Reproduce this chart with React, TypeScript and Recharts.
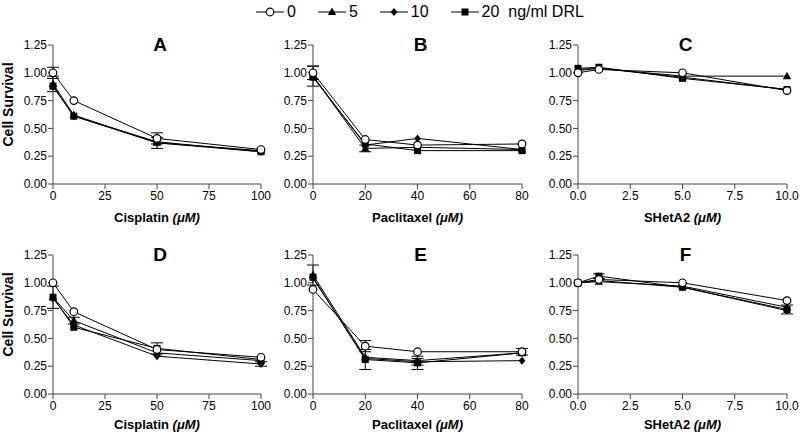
import React from 'react';
import { LineChart, Line, XAxis, YAxis, ErrorBar } from 'recharts';

// ---- x values / ticks ----
const cisplatinX = [0, 10, 50, 100];
const paclitaxelX = [0, 20, 40, 80];
const shetaX = [0, 1, 5, 10];
const yTicks = [0, 0.25, 0.5, 0.75, 1, 1.25];
const cisplatinTicks = [0, 25, 50, 75, 100];
const paclitaxelTicks = [0, 20, 40, 60, 80];
const shetaTicks = [0, 2.5, 5, 7.5, 10];
const doseLabels = ['0', '5', '10', '20'];

// ---- Panel A (Cisplatin) ----
const A0 = [1.0, 0.75, 0.41, 0.31];
const A5 = [0.9, 0.62, 0.37, 0.3];
const A10 = [0.88, 0.61, 0.37, 0.29];
const A20 = [0.88, 0.61, 0.38, 0.29];
const A0e = [0.05, 0, 0.05, 0];
const A5e = [0.07, 0, 0.05, 0];
const A10e = [0, 0, 0, 0];
const A20e = [0, 0, 0, 0];

// ---- Panel B (Paclitaxel) ----
const B0 = [1.0, 0.4, 0.35, 0.36];
const B5 = [0.97, 0.32, 0.33, 0.31];
const B10 = [0.97, 0.35, 0.41, 0.31];
const B20 = [0.96, 0.36, 0.3, 0.3];
const B0e = [0.06, 0, 0, 0];
const B5e = [0.09, 0.03, 0, 0];
const B10e = [0, 0, 0, 0];
const B20e = [0, 0, 0, 0];

// ---- Panel C (SHetA2) ----
const C0 = [1.0, 1.03, 1.0, 0.84];
const C5 = [1.02, 1.04, 0.97, 0.97];
const C10 = [1.03, 1.04, 0.96, 0.85];
const C20 = [1.04, 1.05, 0.95, 0.85];
const C0e = [0, 0, 0, 0];
const C5e = [0, 0, 0, 0];
const C10e = [0, 0, 0, 0];
const C20e = [0, 0, 0, 0];

// ---- Panel D (Cisplatin) ----
const D0 = [1.0, 0.74, 0.4, 0.33];
const D5 = [0.87, 0.66, 0.37, 0.3];
const D10 = [0.86, 0.62, 0.34, 0.27];
const D20 = [0.87, 0.6, 0.41, 0.31];
const D0e = [0, 0, 0, 0];
const D5e = [0, 0.03, 0, 0];
const D10e = [0, 0, 0, 0.02];
const D20e = [0.1, 0, 0.05, 0];

// ---- Panel E (Paclitaxel) ----
const E0 = [0.94, 0.43, 0.38, 0.38];
const E5 = [1.07, 0.33, 0.3, 0.37];
const E10 = [1.04, 0.32, 0.29, 0.3];
const E20 = [1.05, 0.31, 0.28, 0.37];
const E0e = [0, 0.05, 0, 0.03];
const E5e = [0.09, 0, 0, 0];
const E10e = [0, 0, 0.03, 0];
const E20e = [0, 0.09, 0.06, 0];

// ---- Panel F (SHetA2) ----
const F0 = [1.0, 1.03, 1.0, 0.84];
const F5 = [1.0, 1.01, 0.97, 0.78];
const F10 = [1.0, 1.02, 0.96, 0.75];
const F20 = [1.0, 1.06, 0.96, 0.76];
const F0e = [0, 0, 0, 0];
const F5e = [0, 0, 0, 0];
const F10e = [0, 0, 0, 0];
const F20e = [0, 0.02, 0, 0.04];

const FONT = '"Liberation Sans", Arial, Helvetica, sans-serif';

type Row = { x: number; v0: number; v5: number; v10: number; v20: number; e0: number; e5: number; e10: number; e20: number };

function build(x: number[], s: number[][], e: number[][]): Row[] {
  return x.map((xv, i) => ({
    x: xv,
    v0: s[0][i], v5: s[1][i], v10: s[2][i], v20: s[3][i],
    e0: e[0][i], e5: e[1][i], e10: e[2][i], e20: e[3][i],
  }));
}

const dataA = build(cisplatinX, [A0, A5, A10, A20], [A0e, A5e, A10e, A20e]);
const dataB = build(paclitaxelX, [B0, B5, B10, B20], [B0e, B5e, B10e, B20e]);
const dataC = build(shetaX, [C0, C5, C10, C20], [C0e, C5e, C10e, C20e]);
const dataD = build(cisplatinX, [D0, D5, D10, D20], [D0e, D5e, D10e, D20e]);
const dataE = build(paclitaxelX, [E0, E5, E10, E20], [E0e, E5e, E10e, E20e]);
const dataF = build(shetaX, [F0, F5, F10, F20], [F0e, F5e, F10e, F20e]);

type Shape = 'circle' | 'triangle' | 'diamond' | 'square';

function MarkerShape({ cx, cy, shape }: { cx: number; cy: number; shape: Shape }) {
  if (shape === 'circle') return <circle cx={cx} cy={cy} r={3.8} fill="#fff" stroke="#000" strokeWidth={1.2} />;
  if (shape === 'triangle')
    return <polygon points={`${cx},${cy - 4.5} ${cx - 4.2},${cy + 3} ${cx + 4.2},${cy + 3}`} fill="#000" />;
  if (shape === 'diamond')
    return <polygon points={`${cx},${cy - 4} ${cx + 3.4},${cy} ${cx},${cy + 4} ${cx - 3.4},${cy}`} fill="#000" />;
  return <rect x={cx - 3.5} y={cy - 3.5} width={7} height={7} fill="#000" />;
}

const makeDot = (shape: Shape) => (props: any) => {
  const { cx, cy, index } = props;
  if (cx == null || cy == null) return <g key={`d-${shape}-${index}`} />;
  return (
    <g key={`d-${shape}-${index}`}>
      <MarkerShape cx={cx} cy={cy} shape={shape} />
    </g>
  );
};

const series: { key: string; err: string; shape: Shape; label: string }[] = [
  { key: 'v20', err: 'e20', shape: 'square', label: doseLabels[3] },
  { key: 'v10', err: 'e10', shape: 'diamond', label: doseLabels[2] },
  { key: 'v5', err: 'e5', shape: 'triangle', label: doseLabels[1] },
  { key: 'v0', err: 'e0', shape: 'circle', label: doseLabels[0] },
];

function XTitle(props: any) {
  const { viewBox, name, off } = props;
  const { x, y, width } = viewBox;
  return (
    <text x={x + width / 2} y={y + off} textAnchor="middle" fontFamily={FONT} fontSize={13} fontWeight="bold" fill="#000">
      {name + ' '}
      <tspan fontStyle="italic">(μM)</tspan>
    </text>
  );
}

function YTitle(props: any) {
  const { viewBox } = props;
  const { x, y, height } = viewBox;
  const cx = x + 13;
  const cy = y + height / 2 - 10;
  return (
    <text x={cx} y={cy} transform={`rotate(-90, ${cx}, ${cy})`} textAnchor="middle" fontFamily={FONT} fontSize={14} fontWeight="bold" fill="#000">
      Cell Survival
    </text>
  );
}

type PanelProps = {
  left: number;
  plotTop: number;
  plotLeft: number;
  plotRight: number;
  data: Row[];
  ticks: number[];
  domain: [number, number];
  xName: string;
  letter: string;
  yLabel: boolean;
  fmt: (v: number) => string;
  titleOff: number;
};

const PLOT_H = 139;
const AXIS_H = 45;
const MARGIN_TOP = 10;

function Panel(p: PanelProps) {
  const width = p.plotRight - p.left + 16;
  const height = MARGIN_TOP + PLOT_H + AXIS_H;
  const yw = p.plotLeft - p.left;
  return (
    <>
      <div style={{ position: 'absolute', left: p.left, top: p.plotTop - MARGIN_TOP }}>
        <LineChart
          width={width}
          height={height}
          data={p.data}
          margin={{ top: MARGIN_TOP, right: 16, bottom: 0, left: 0 }}
          style={{ overflow: 'visible' }}
        >
          <XAxis
            dataKey="x"
            type="number"
            domain={p.domain}
            ticks={p.ticks}
            tickFormatter={p.fmt}
            height={AXIS_H}
            tickSize={5}
            tickMargin={2}
            stroke="#444"
            tick={{ fill: '#000', fontSize: 12, fontFamily: FONT }}
            label={<XTitle name={p.xName} off={p.titleOff} />}
          />
          <YAxis
            type="number"
            domain={[0, 1.25]}
            ticks={yTicks}
            tickFormatter={(v: number) => v.toFixed(2)}
            width={yw}
            tickSize={5}
            tickMargin={1}
            stroke="#444"
            tick={{ fill: '#000', fontSize: 12, fontFamily: FONT }}
            label={p.yLabel ? <YTitle /> : undefined}
          />
          {series.map((s) => (
            <Line
              key={s.key}
              dataKey={s.key}
              stroke="#000"
              strokeWidth={1}
              dot={makeDot(s.shape)}
              activeDot={false}
              isAnimationActive={false}
              name={s.label}
            >
              <ErrorBar dataKey={s.err} width={6} stroke="#000" strokeWidth={1} direction="y" />
            </Line>
          ))}
        </LineChart>
      </div>
      <div
        style={{
          position: 'absolute',
          left: (p.plotLeft + p.plotRight) / 2 - 20 + 3,
          width: 40,
          top: p.plotTop - 11,
          textAlign: 'center',
          fontFamily: FONT,
          fontWeight: 'bold',
          fontSize: 19,
          lineHeight: '22px',
          color: '#000',
        }}
      >
        {p.letter}
      </div>
    </>
  );
}

function LegendIcon({ shape }: { shape: Shape }) {
  return (
    <svg width={28} height={14} style={{ display: 'block' }}>
      <line x1={0} y1={7} x2={28} y2={7} stroke="#000" strokeWidth={1} />
      <MarkerShape cx={14} cy={7} shape={shape} />
    </svg>
  );
}

function Legend() {
  const items: { shape: Shape; text: string }[] = [
    { shape: 'circle', text: doseLabels[0] },
    { shape: 'triangle', text: doseLabels[1] },
    { shape: 'diamond', text: doseLabels[2] },
    { shape: 'square', text: doseLabels[3] + '  ng/ml DRL' },
  ];
  return (
    <div
      style={{
        position: 'absolute',
        left: 256,
        top: 3,
        height: 18,
        display: 'flex',
        alignItems: 'center',
        gap: 22,
        fontFamily: FONT,
        fontSize: 16,
        color: '#000',
        whiteSpace: 'pre',
      }}
    >
      {items.map((it) => (
        <div key={it.text} style={{ display: 'flex', alignItems: 'center' }}>
          <LegendIcon shape={it.shape} />
          <span style={{ marginLeft: 3 }}>{it.text}</span>
        </div>
      ))}
    </div>
  );
}

const fmtInt = (v: number) => String(v);
const fmt1 = (v: number) => v.toFixed(1);

export default function App() {
  return (
    <div style={{ position: 'absolute', left: 0, top: 0, width: 800, height: 437, background: '#fff', overflow: 'hidden' }}>
      <Legend />
      <Panel left={0} plotLeft={53} plotRight={261} plotTop={45} data={dataA} ticks={cisplatinTicks} domain={[0, 100]} xName="Cisplatin" letter="A" yLabel fmt={fmtInt} titleOff={38} />
      <Panel left={262} plotLeft={313} plotRight={522} plotTop={45} data={dataB} ticks={paclitaxelTicks} domain={[0, 80]} xName="Paclitaxel" letter="B" yLabel={false} fmt={fmtInt} titleOff={38} />
      <Panel left={527} plotLeft={578} plotRight={787} plotTop={45} data={dataC} ticks={shetaTicks} domain={[0, 10]} xName="SHetA2" letter="C" yLabel={false} fmt={fmt1} titleOff={38} />
      <Panel left={0} plotLeft={53} plotRight={261} plotTop={255} data={dataD} ticks={cisplatinTicks} domain={[0, 100]} xName="Cisplatin" letter="D" yLabel fmt={fmtInt} titleOff={35} />
      <Panel left={262} plotLeft={313} plotRight={522} plotTop={255} data={dataE} ticks={paclitaxelTicks} domain={[0, 80]} xName="Paclitaxel" letter="E" yLabel={false} fmt={fmtInt} titleOff={35} />
      <Panel left={527} plotLeft={578} plotRight={787} plotTop={255} data={dataF} ticks={shetaTicks} domain={[0, 10]} xName="SHetA2" letter="F" yLabel={false} fmt={fmt1} titleOff={35} />
    </div>
  );
}
